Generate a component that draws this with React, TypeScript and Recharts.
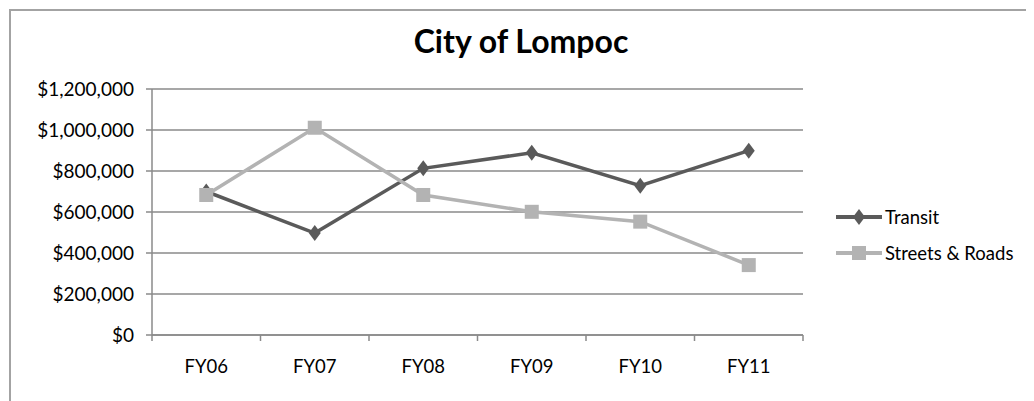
import { LineChart, Line, XAxis, YAxis, CartesianGrid, Legend } from "recharts";

const years = ["FY06", "FY07", "FY08", "FY09", "FY10", "FY11"];
const transit = [700000, 497000, 813000, 889000, 728000, 899000];
const streetsRoads = [683000, 1011000, 683000, 601000, 553000, 341000];
const yTicks = [0, 200000, 400000, 600000, 800000, 1000000, 1200000];

const data = years.map((year, i) => ({
  year,
  transit: transit[i],
  streets: streetsRoads[i],
}));

const FONT = "Lato, 'Open Sans', sans-serif";
const GRID = "#8a8a8a";
const DARK = "#5a5a5a";
const LIGHT = "#b3b3b3";
const X_TICK_GAP = 25;

const money = (v: number) => "$" + v.toLocaleString("en-US");

function Diamond({ cx, cy, fill }: { cx?: number; cy?: number; fill: string }) {
  if (cx == null || cy == null) return null;
  return <path d={`M${cx},${cy - 8} L${cx + 6},${cy} L${cx},${cy + 8} L${cx - 6},${cy} Z`} fill={fill} />;
}

function Square({ cx, cy, fill }: { cx?: number; cy?: number; fill: string }) {
  if (cx == null || cy == null) return null;
  return <rect x={cx - 7} y={cy - 7} width={14} height={14} fill={fill} />;
}

// category label in the middle, tick marks on the band edges (like Excel)
function YearTick(props: any) {
  const { x, y, payload, index } = props;
  const half = payload?.offset || 54.25;
  const axisY = y - X_TICK_GAP;
  const last = index === years.length - 1;
  return (
    <g>
      <line x1={x - half} y1={axisY} x2={x - half} y2={axisY + 6} stroke={GRID} strokeWidth={1.5} />
      {last && <line x1={x + half} y1={axisY} x2={x + half} y2={axisY + 6} stroke={GRID} strokeWidth={1.5} />}
      <text x={x} y={y} dy="0.71em" textAnchor="middle" fill="#000" fontSize={18.5} fontFamily={FONT}>
        {payload.value}
      </text>
    </g>
  );
}

function LegendBox() {
  const rows = [
    { label: "Transit", color: DARK, shape: "diamond" },
    { label: "Streets & Roads", color: LIGHT, shape: "square" },
  ];
  return (
    <div style={{ fontFamily: FONT, fontSize: 18.5, color: "#000" }}>
      {rows.map((r) => (
        <div key={r.label} style={{ display: "flex", alignItems: "center", height: 36 }}>
          <svg width={48} height={20} style={{ marginRight: 1 }}>
            <line x1={0} y1={10} x2={46} y2={10} stroke={r.color} strokeWidth={4} />
            {r.shape === "diamond" ? <Diamond cx={23} cy={10} fill={r.color} /> : <Square cx={23} cy={10} fill={r.color} />}
          </svg>
          <span>{r.label}</span>
        </div>
      ))}
    </div>
  );
}

export default function App() {
  return (
    <div style={{ position: "relative", width: 1026, height: 393, overflow: "hidden", background: "#fff" }}>
      <div
        style={{
          position: "absolute",
          left: 1,
          top: 1,
          width: 1200,
          height: 600,
          border: "2px solid #a3a3a3",
        }}
      />
      <span
        style={{
          position: "absolute",
          left: 513,
          top: 17,
          transform: "translateX(-50%)",
          whiteSpace: "nowrap",
          fontFamily: FONT,
          fontWeight: 700,
          fontSize: 32,
          lineHeight: "32px",
        }}
      >
        City of Lompoc
      </span>
      <LineChart
        width={1026}
        height={393}
        data={data}
        margin={{ top: 81, right: 231, bottom: 36, left: 0 }}
        style={{ position: "absolute", left: 0, top: 0 }}
      >
        <CartesianGrid vertical={false} stroke={GRID} strokeWidth={1.5} />
        <XAxis
          dataKey="year"
          scale="band"
          height={30}
          interval={0}
          axisLine={{ stroke: GRID, strokeWidth: 1.5 }}
          tickLine={false}
          tickSize={0}
          tickMargin={X_TICK_GAP}
          tick={<YearTick />}
        />
        <YAxis
          width={144}
          domain={[0, 1200000]}
          ticks={yTicks}
          tickFormatter={money}
          axisLine={{ stroke: GRID, strokeWidth: 1.5 }}
          tickLine={{ stroke: GRID, strokeWidth: 1.5 }}
          tickSize={6}
          tickMargin={12}
          tick={{ fill: "#000", fontSize: 19, fontFamily: FONT }}
        />
        <Legend
          layout="vertical"
          align="center"
          verticalAlign="middle"
          wrapperStyle={{ left: 828, top: 191, width: 200 }}
          content={() => <LegendBox />}
        />
        <Line
          dataKey="transit"
          name="Transit"
          stroke={DARK}
          strokeWidth={3.5}
          dot={(p: any) => <Diamond key={"t" + p.index} cx={p.cx} cy={p.cy} fill={DARK} />}
          activeDot={false}
          isAnimationActive={false}
        />
        <Line
          dataKey="streets"
          name="Streets & Roads"
          stroke={LIGHT}
          strokeWidth={3.5}
          dot={(p: any) => <Square key={"s" + p.index} cx={p.cx} cy={p.cy} fill={LIGHT} />}
          activeDot={false}
          isAnimationActive={false}
        />
      </LineChart>
    </div>
  );
}
